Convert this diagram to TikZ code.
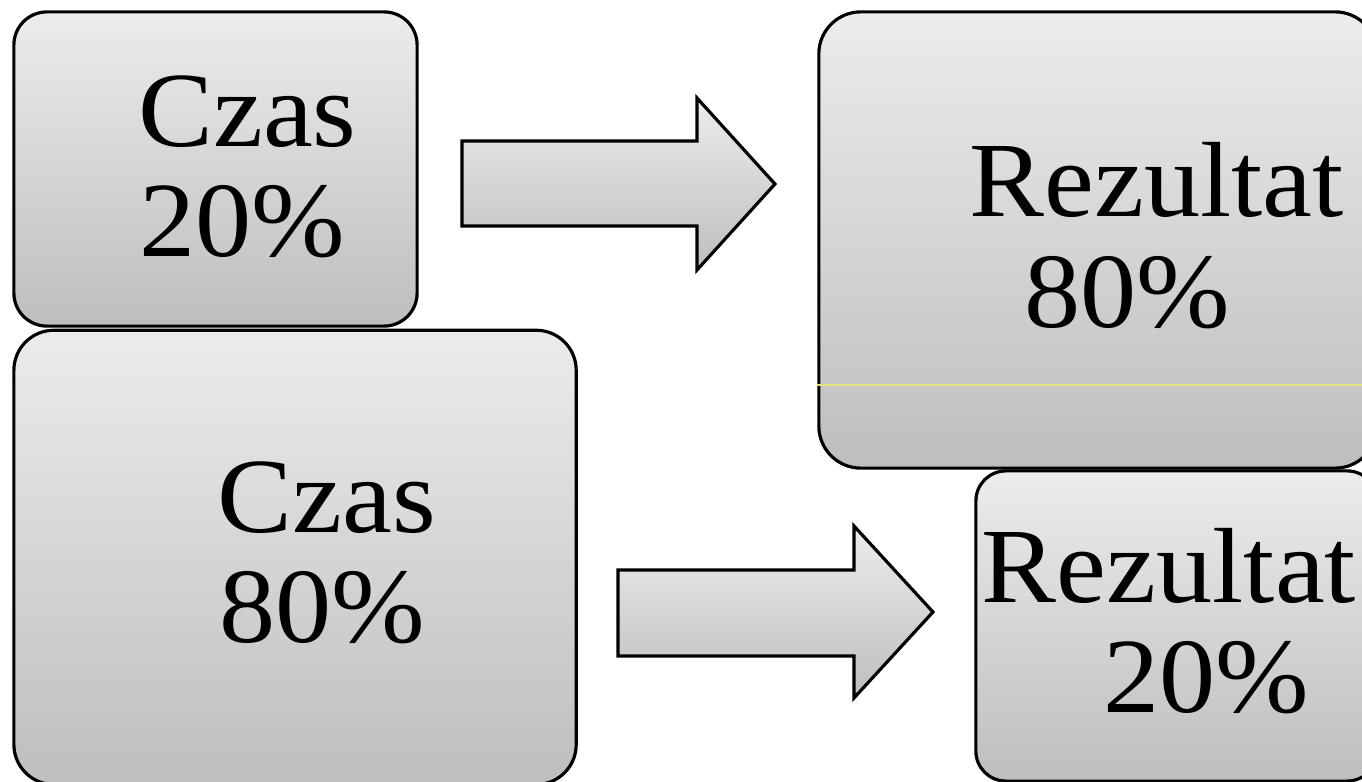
\documentclass[tikz,border=0pt]{standalone}
\usepackage{fontspec}
\setmainfont[FakeStretch=1.05]{Liberation Serif}
\usetikzlibrary{positioning}
\definecolor{seam}{RGB}{228,228,120}

\begin{document}
\begin{tikzpicture}[x=0.01cm, y=-0.01cm,
    box/.style={draw, line width=0.9pt, top color=gray!15, bottom color=gray!51},
    txt/.style={anchor=base, inner sep=0pt, font=\fontsize{30.4}{32}\selectfont},
    blockarrow/.style={draw, line width=0.9pt, line join=miter,
                       top color=gray!15, bottom color=gray!51}]
  \useasboundingbox (0,0) rectangle (1362,782);
  \clip (0,0) rectangle (1362,782);

  % Time boxes
  \node[box, rounded corners=0.33cm, minimum width=4.03cm,
        minimum height=3.14cm] (czas1) at (215.5,169) {};
  \node[box, rounded corners=0.40cm, minimum width=5.62cm,
        minimum height=4.54cm, below right=0.01cm and 0cm of czas1.south west]
    (czas2) {};

  % Result boxes
  \node[box, rounded corners=0.42cm, minimum width=5.58cm,
        minimum height=4.56cm] (rez1) at (1098,240) {};
  \node[box, rounded corners=0.30cm, minimum width=4.01cm,
        minimum height=3.10cm] (rez2) at (1176.5,626) {};
  \draw[seam, line width=0.3pt] (rez1.west |- 0,385) -- (1362,385);

  % Labels
  \node[txt] (czas1a) at (247.5,147) {Czas};
  \node[txt] (czas1b) at (242.5,257) {20\%};
  \node[txt] (czas2a) at (327,533) {Czas};
  \node[txt] (czas2b) at (322,643) {80\%};
  \node[txt] (rez1a) at (1156.5,217) {Rezultat};
  \node[txt] (rez1b) at (1127,328) {80\%};
  \node[txt] (rez2a) at (1169,603) {Rezultat};
  \node[txt] (rez2b) at (1206,713) {20\%};

  % Block arrows
  \draw[blockarrow] (462,141) -- (697,141) -- (697,98) -- (775,184)
    -- (697,270) -- (697,226) -- (462,226) -- cycle;
  \draw[blockarrow] (618,570) -- (854,570) -- (854,526) -- (933,612)
    -- (854,698) -- (854,656) -- (618,656) -- cycle;
\end{tikzpicture}
\end{document}
